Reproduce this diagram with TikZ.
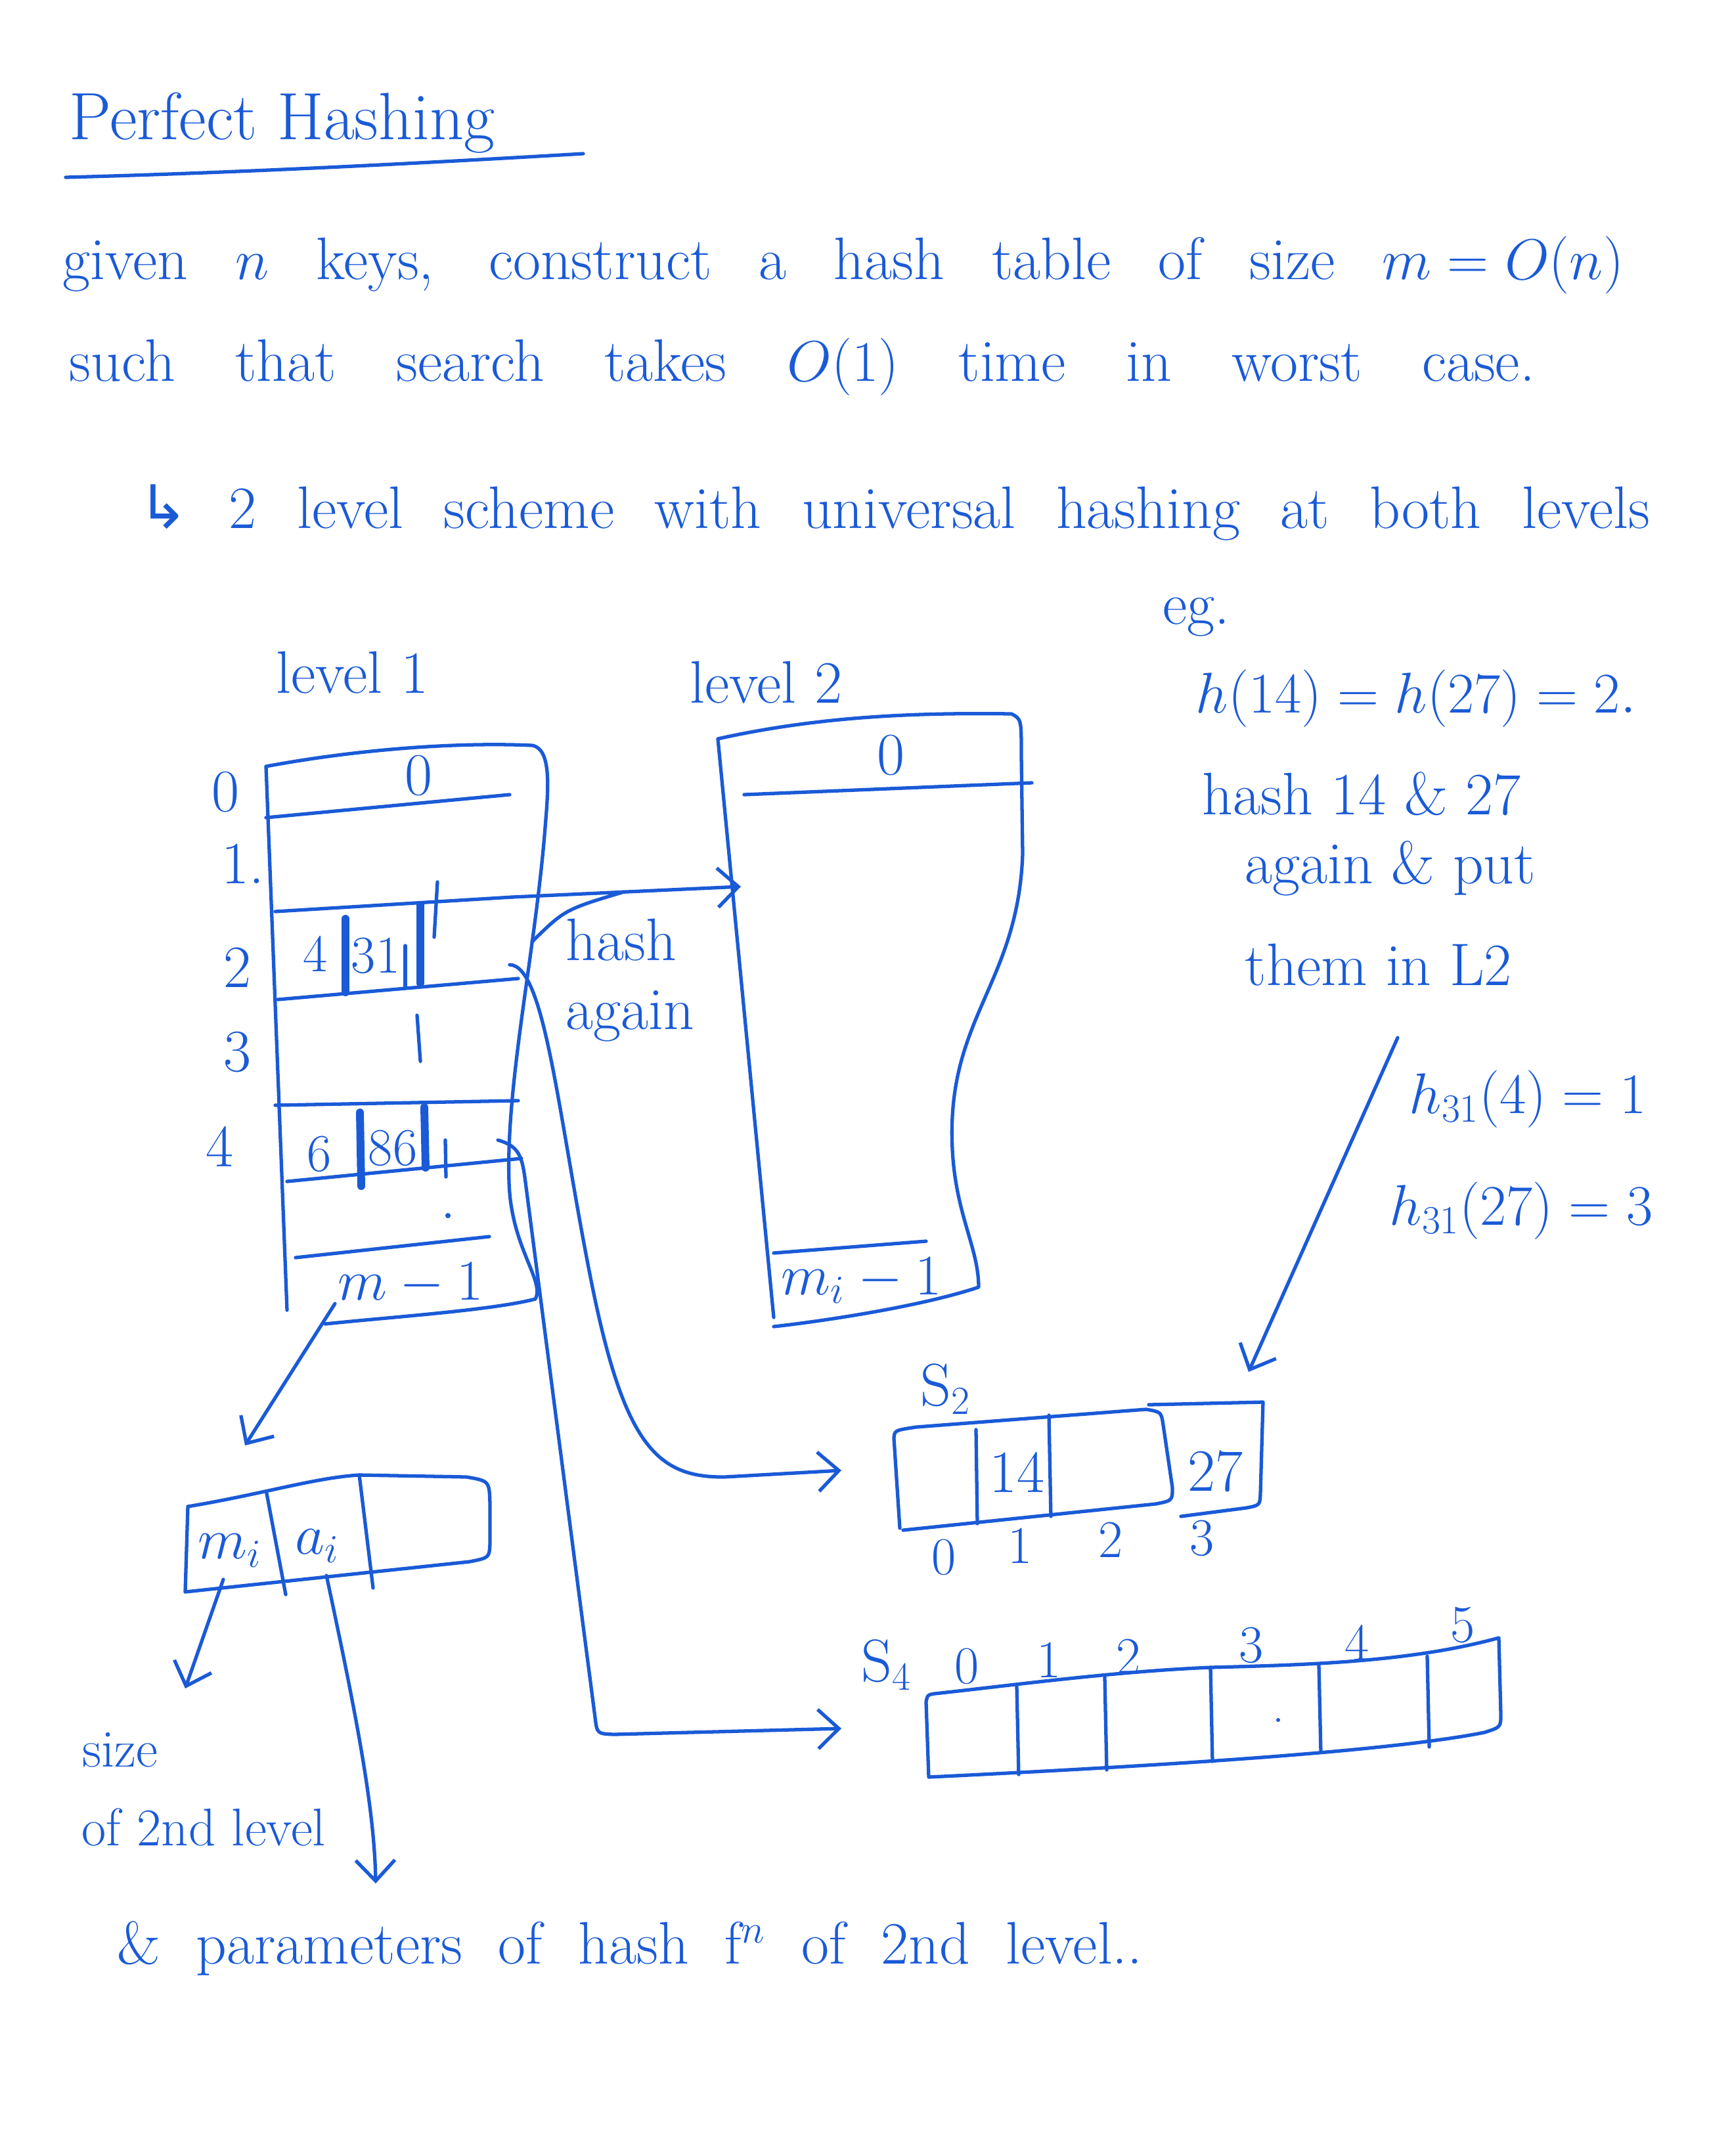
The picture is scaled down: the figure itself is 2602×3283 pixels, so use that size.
\documentclass[tikz,border=0pt]{standalone}
\usepackage{amsmath,amssymb}
\usepackage{fontspec}
\newfontfamily\arrowfont{DejaVu Sans}
\usetikzlibrary{arrows.meta}
\definecolor{tinta}{HTML}{1A5AD7}

\begin{document}
\begin{tikzpicture}[x=0.01cm,y=-0.01cm,>={Straight Barb[length=9pt,width=17pt]},
  ink/.style={tinta,line width=1.5pt,line cap=round,line join=round},
  heavybar/.style={ink,line width=3.4pt},
  hand/.style={tinta,font=\fontsize{26}{30}\selectfont,inner sep=0pt},
  sentence/.style={hand,anchor=base west},
  idx/.style={hand,font=\fontsize{23}{26}\selectfont}]
  \useasboundingbox (0,0) rectangle (2602,3283);

  % heading and statement
  \node[sentence,font=\fontsize{29}{33}\selectfont] (title) at (105,212) {Perfect Hashing};
  \draw[ink] (100,270) .. controls (400,262) and (700,245) .. (888,234);
  \node[sentence] (given) at (95,425)
    {\makebox[23.75cm][s]{given $n$ keys, construct a hash table of size \mbox{$m=O(n)$}}};
  \node[sentence] (such) at (105,580)
    {\makebox[22.3cm][s]{such that search takes \mbox{$O(1)$} time in worst case.}};
  \node[sentence] (scheme) at (210,804)
    {\makebox[23cm][s]{{\arrowfont ↳} 2 level scheme with universal hashing at both levels}};

  % example notes
  \node[sentence] (eg) at (1770,950) {eg.};
  \node[sentence] (collide) at (1820,1085) {$h(14) = h(27) = 2.$};
  \node[sentence] (note1) at (1830,1240) {hash 14 \& 27};
  \node[sentence] (note2) at (1895,1345) {again \& put};
  \node[sentence] (note3) at (1895,1500) {them in L2};
  \node[sentence] (hfour) at (2145,1695) {$h_{31}(4) = 1$};
  \node[sentence] (hseven) at (2115,1865) {$h_{31}(27) = 3$};

  % level 1 table
  \node[sentence] (lvlone) at (420,1055) {level 1};
  \draw[ink] (437,1995) -- (405,1167) .. controls (550,1140) and (700,1130) .. (810,1135)
    .. controls (840,1140) and (835,1200) .. (830,1260)
    .. controls (815,1450) and (770,1650) .. (775,1800)
    .. controls (778,1900) and (830,1950) .. (815,1978)
    .. controls (750,1995) and (600,2005) .. (495,2016);
  \foreach \xa/\ya/\xb/\yb in {405/1245/776/1210, 419/1388/780/1366, 423/1522/789/1490,
      419/1683/789/1676, 437/1799/794/1764, 450/1915/745/1883}
    \draw[ink] (\xa,\ya) -- (\xb,\yb);
  \foreach \lab/\x/\y in {0/343/1206, 1./370/1315, 2/361/1473, 3/361/1602, 4/334/1746}
    \node[hand] at (\x,\y) {\lab};
  \node[hand] (zero) at (637,1181) {0};
  \node[idx] (mfour) at (480,1452) {4};
  \node[idx] (athirty) at (572,1455) {31};
  \draw[heavybar] (526,1399) -- (526,1511);
  \draw[heavybar] (640,1378) -- (640,1497);
  \draw[ink] (617,1440) -- (617,1504);
  \draw[ink] (666,1343) -- (661,1427);
  \draw[ink] (635,1546) -- (640,1616);
  \node[idx] (msix) at (486,1757) {6};
  \node[idx] (aeighty) at (598,1748) {86};
  \draw[heavybar] (548,1694) -- (550,1806);
  \draw[heavybar] (646,1686) -- (648,1778);
  \draw[ink] (678,1736) -- (679,1792);
  \fill[tinta] (682,1851) circle (4);
  \node[idx] (mlast) at (625,1955) {$m-1$};

  % level 2 table
  \node[sentence] (lvltwo) at (1050,1070) {level 2};
  \draw[ink] (1178,2006) -- (1093,1125) .. controls (1250,1090) and (1400,1085) .. (1540,1087)
    .. controls (1555,1095) .. (1555,1150) -- (1557,1300)
    .. controls (1550,1500) and (1440,1550) .. (1450,1750)
    .. controls (1455,1850) and (1490,1900) .. (1490,1960)
    .. controls (1400,1990) and (1250,2012) .. (1178,2020);
  \draw[ink] (1133,1210) -- (1571,1192);
  \draw[ink] (1178,1908) -- (1410,1890);
  \node[hand] (zerotwo) at (1356,1150) {0};
  \node[idx] (milast) at (1312,1950) {$m_i-1$};

  % hash again
  \coordinate (rowonetwo) at (780,1366);
  \coordinate (lvltwoin) at (1128,1350);
  \draw[ink,->] (rowonetwo) -- (lvltwoin);
  \node[hand,align=left,anchor=north west] (again) at (861,1398) {hash\\again};
  \coordinate (hooka) at (810,1434);
  \coordinate (hookb) at (950,1358);
  \draw[ink] (hooka) .. controls (860,1385) .. (hookb);

  % S2
  \node[hand] (stwo) at (1440,2115) {S$_2$};
  \draw[ink] (1370,2327) -- (1361,2190) .. controls (1362,2178) .. (1395,2173) -- (1745,2146)
    .. controls (1768,2150) .. (1771,2170) -- (1785,2265)
    .. controls (1785,2285) .. (1760,2290) -- (1375,2330);
  \draw[ink] (1486,2177) -- (1488,2320);
  \draw[ink] (1597,2155) -- (1600,2309);
  \draw[ink] (1749,2139) -- (1923,2135) -- (1919,2275) .. controls (1918,2292) .. (1898,2296) -- (1798,2309);
  \node[hand] (fourteen) at (1548,2242) {14};
  \node[hand] (twentyseven) at (1850,2240) {27};
  \foreach \lab/\x/\y in {0/1437/2371, 1/1553/2354, 2/1691/2345, 3/1830/2342}
    \node[idx] at (\x,\y) {\lab};

  % S4
  \node[hand] (sfour) at (1350,2535) {S$_4$};
  \draw[ink] (1414,2706) -- (1410,2592) .. controls (1412,2580) .. (1432,2578)
    .. controls (1550,2565) and (1700,2545) .. (1843,2539)
    .. controls (2000,2535) and (2150,2530) .. (2282,2494) -- (2285,2610)
    .. controls (2285,2630) .. (2260,2638)
    .. controls (2100,2670) and (1700,2692) .. (1414,2706);
  \foreach \x/\yt/\yb in {1548/2567/2702, 1682/2554/2695, 1843/2539/2682, 2008/2535/2668, 2173/2522/2660}
    \draw[ink] (\x,\yt) -- (\x+3,\yb);
  \foreach \lab/\x/\y in {0/1472/2537, 1/1597/2528, 2/1718/2523, 3/1905/2505, 4/2066/2501, 5/2227/2474}
    \node[idx] at (\x,\y) {\lab};
  \fill[tinta] (1946,2619) circle (3);

  % slot record m_i | a_i
  \draw[ink] (282,2424) -- (286,2294) .. controls (400,2275) and (480,2250) .. (547,2246) -- (710,2249)
    .. controls (745,2255) .. (746,2290) -- (746,2350)
    .. controls (745,2372) .. (715,2378) -- (282,2424);
  \draw[ink] (406,2274) -- (435,2428);
  \draw[ink] (547,2246) -- (568,2418);
  \node[hand] (mi) at (350,2361) {$m_i$};
  \node[hand] (ai) at (483,2354) {$a_i$};
  \node[sentence,font=\fontsize{23}{26}\selectfont] (size) at (125,2690) {size};
  \node[sentence,font=\fontsize{23}{26}\selectfont] (sizeof) at (124,2810) {of 2nd level};
  \node[sentence] (params) at (178,2990)
    {\makebox[15.6cm][s]{\& parameters of hash f$^n$ of 2nd level..}};

  % connectors
  \coordinate (rowtwoout) at (776,1469);
  \coordinate (stwoin) at (1281,2239);
  \draw[ink,->] (rowtwoout) .. controls (830,1470) and (850,1700) .. (900,1950)
    .. controls (950,2200) and (1000,2250) .. (1103,2249) -- (stwoin);
  \coordinate (rowfourout) at (758,1736);
  \coordinate (sfourin) at (1281,2632);
  \draw[ink,->] (rowfourout) .. controls (790,1745) and (795,1760) .. (800,1800) -- (906,2615)
    .. controls (909,2640) .. (935,2641) -- (sfourin);
  \coordinate (lvlonefoot) at (510,1985);
  \coordinate (recordtop) at (373,2201);
  \draw[ink,->] (lvlonefoot) -- (recordtop);
  \coordinate (mifoot) at (340,2405);
  \coordinate (sizetop) at (282,2571);
  \draw[ink,->] (mifoot) -- (sizetop);
  \coordinate (aifoot) at (497,2399);
  \coordinate (paramstop) at (572,2868);
  \draw[ink,->] (aifoot) .. controls (540,2600) and (570,2750) .. (paramstop);
  \coordinate (notefoot) at (2128,1580);
  \coordinate (cellthree) at (1901,2089);
  \draw[ink,->] (notefoot) -- (cellthree);
\end{tikzpicture}
\end{document}
